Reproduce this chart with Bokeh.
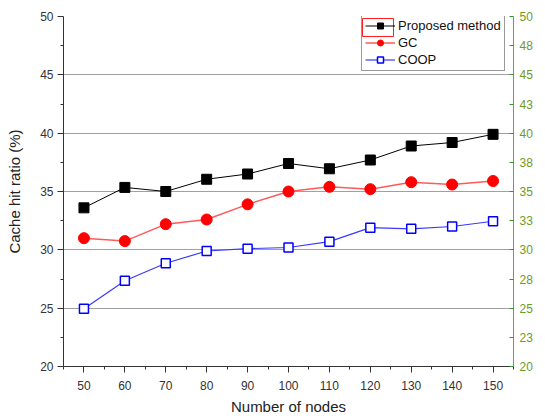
from bokeh.plotting import figure
from bokeh.models import (Range1d, LinearAxis, FixedTicker, Legend, LegendItem, Grid, BoxAnnotation)
from bokeh.embed import file_html
from bokeh.resources import INLINE

nodes = [50, 60, 70, 80, 90, 100, 110, 120, 130, 140, 150]
proposed = [33.6, 35.35, 35.0, 36.05, 36.5, 37.4, 36.95, 37.7, 38.9, 39.2, 39.9]
gc = [31.0, 30.75, 32.2, 32.6, 33.9, 35.0, 35.4, 35.2, 35.8, 35.6, 35.9]
coop = [24.95, 27.35, 28.85, 29.9, 30.1, 30.2, 30.7, 31.9, 31.8, 32.0, 32.45]

x_ticks = [50, 60, 70, 80, 90, 100, 110, 120, 130, 140, 150]
x_minor = [45, 55, 65, 75, 85, 95, 105, 115, 125, 135, 145, 155]
y_ticks = [20, 25, 30, 35, 40, 45, 50]
y_minor = [22.5, 27.5, 32.5, 37.5, 42.5, 47.5]
grid_ticks = [25, 30, 35, 40, 45]
right_ticks = [20, 22.5, 25, 27.5, 30, 32.5, 35, 37.5, 40, 42.5, 45, 47.5, 50]
right_labels = ["20", "23", "25", "28", "30", "33", "35", "38", "40", "43", "45", "48", "50"]

FONT = "Liberation Sans"

p = figure(width=545, height=420, output_backend="svg", toolbar_location=None,
           x_range=Range1d(45, 155), y_range=Range1d(20, 50),
           min_border_left=63, min_border_right=32, min_border_top=16, min_border_bottom=54)
p.outline_line_color = None
p.xgrid.visible = False
p.ygrid.visible = False
p.add_layout(Grid(dimension=1, ticker=FixedTicker(ticks=grid_ticks),
                  grid_line_color="#a0a0a0", grid_line_width=1))

for ax in (p.xaxis[0], p.yaxis[0]):
    ax.axis_line_color = "#333333"
    ax.major_tick_line_color = "#333333"
    ax.minor_tick_line_color = "#333333"
    ax.major_tick_out = 6
    ax.major_tick_in = 0
    ax.minor_tick_out = 3
    ax.minor_tick_in = 0
    ax.major_label_text_font = FONT
    ax.major_label_text_font_size = "12px"
    ax.major_label_text_color = "#333333"
    ax.axis_label_text_font = FONT
    ax.axis_label_text_font_size = "15px"
    ax.axis_label_text_font_style = "normal"
    ax.axis_label_text_color = "#222222"

p.xaxis[0].ticker = FixedTicker(ticks=x_ticks, minor_ticks=x_minor)
p.yaxis[0].ticker = FixedTicker(ticks=y_ticks, minor_ticks=y_minor)
p.xaxis[0].axis_label = "Number of nodes"
p.yaxis[0].axis_label = "Cache hit ratio (%)"
p.xaxis[0].major_label_standoff = 8
p.yaxis[0].major_label_standoff = 4
p.yaxis[0].axis_label_standoff = 14

p.extra_y_ranges = {"right": Range1d(20, 50)}
ra = LinearAxis(y_range_name="right", ticker=FixedTicker(ticks=right_ticks, minor_ticks=[]),
                major_label_overrides={t: l for t, l in zip(right_ticks, right_labels)})
ra.axis_line_color = "#5aaa5a"
ra.major_tick_line_color = "#2e9a2e"
ra.major_tick_in = 4
ra.major_tick_out = 0
ra.minor_tick_line_color = None
ra.major_label_text_font = FONT
ra.major_label_text_font_size = "12px"
ra.major_label_text_color = "#6f9a1f"
ra.major_label_standoff = 6
p.add_layout(ra, "right")

l1 = p.line(nodes, proposed, line_color="#000000", line_width=1)
m1 = p.scatter(nodes, proposed, marker="square", size=10, fill_color="#000000", line_color="#000000")
l2 = p.line(nodes, gc, line_color="#ff5a5a", line_width=1.5)
m2 = p.scatter(nodes, gc, marker="circle", size=11, fill_color="#ff0000", line_color="#ff0000")
l3 = p.line(nodes, coop, line_color="#3a3aff", line_width=1.2)
m3 = p.scatter(nodes, coop, marker="square", size=9, fill_color="#ffffff", line_color="#0000ff", line_width=1.5)

legend = Legend(items=[LegendItem(label="Proposed method", renderers=[l1, m1]),
                       LegendItem(label="GC", renderers=[l2, m2]),
                       LegendItem(label="COOP", renderers=[l3, m3])],
                location=(298, 295), orientation="vertical")
legend.label_text_font = FONT
legend.label_text_font_size = "13px"
legend.label_text_color = "#111111"
legend.label_height = 15
legend.glyph_height = 15
legend.glyph_width = 30
legend.label_standoff = 3
legend.spacing = 2
legend.padding = 3
legend.margin = 0
legend.border_line_color = "#333333"
legend.border_line_width = 1
legend.background_fill_alpha = 0
p.add_layout(legend, "center")

# selection highlight box around the first legend glyph (frame-relative screen units)
sel = BoxAnnotation(left=299, right=330, top=348, bottom=330,
                    left_units="screen", right_units="screen",
                    top_units="screen", bottom_units="screen",
                    fill_alpha=0, line_color="#ff2020", line_alpha=1, line_width=1, level="underlay")
p.add_layout(sel)

open("out.html", "w").write(file_html(p, INLINE))
